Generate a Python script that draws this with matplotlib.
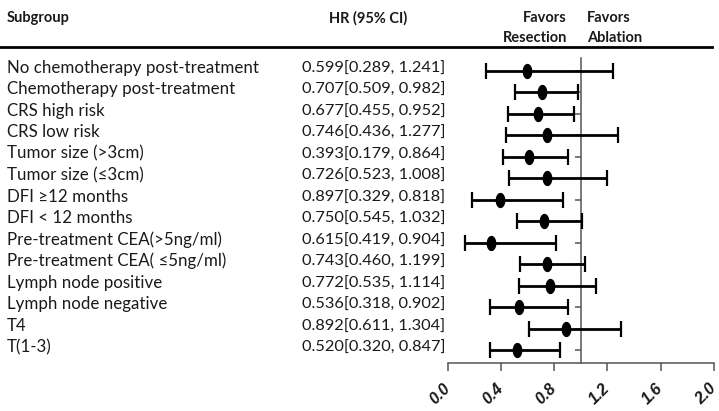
import numpy as np
import matplotlib as mpl
from matplotlib import pyplot as plt
from matplotlib.path import Path
from matplotlib.transforms import blended_transform_factory

# subgroup labels and the printed HR column
labels = ['No chemotherapy post-treatment', 'Chemotherapy post-treatment',
          'CRS high risk', 'CRS low risk', 'Tumor size (>3cm)',
          'Tumor size (\u22643cm)', 'DFI \u226512 months', 'DFI < 12 months',
          'Pre-treatment CEA(>5ng/ml)', 'Pre-treatment CEA( \u22645ng/ml)',
          'Lymph node positive', 'Lymph node negative', 'T4', 'T(1-3)']
hr_text = ['0.599[0.289, 1.241]', '0.707[0.509, 0.982]', '0.677[0.455, 0.952]',
           '0.746[0.436, 1.277]', '0.393[0.179, 0.864]', '0.726[0.523, 1.008]',
           '0.897[0.329, 0.818]', '0.750[0.545, 1.032]', '0.615[0.419, 0.904]',
           '0.743[0.460, 1.199]', '0.772[0.535, 1.114]', '0.536[0.318, 0.902]',
           '0.892[0.611, 1.304]', '0.520[0.320, 0.847]']

# plotted estimates and intervals (as drawn in the figure)
hr = [0.599, 0.707, 0.677, 0.746, 0.615, 0.743, 0.393, 0.726, 0.329,
      0.750, 0.772, 0.536, 0.892, 0.520]
lo = [0.289, 0.509, 0.455, 0.436, 0.419, 0.460, 0.179, 0.523, 0.132,
      0.545, 0.535, 0.318, 0.611, 0.320]
hi = [1.241, 0.982, 0.952, 1.277, 0.904, 1.199, 0.864, 1.008, 0.818,
      1.032, 1.114, 0.902, 1.304, 0.847]
xticks = [0.0, 0.4, 0.8, 1.2, 1.6, 2.0]

# style
txt_font = 'Lato'
c_txt = '#1a1a1a'
c_axis = '#555555'

W, H = 719, 411
fig = plt.figure(figsize=(W / 100, H / 100), dpi=100)

# axes placed in pixel terms: x 0 -> 447.7px, 2 -> 713.7px ; y top 58px, bottom 362.5px
ax = fig.add_axes([447.7 / W, (H - 362.5) / H, 266 / W, (362.5 - 58) / H])

rows = np.arange(1, len(hr) + 1)
row0, step = 70.7, 21.5
ax.set_xlim(0, 2.0)
ax.set_ylim((362.5 - row0) / step + 1, (58 - row0) / step + 1)

# elliptical marker
t = np.linspace(0, 2 * np.pi, 40)
ell = Path(np.column_stack([0.6 * np.cos(t), np.sin(t)]))

err = [np.array(hr) - np.array(lo), np.array(hi) - np.array(hr)]
ax.errorbar(hr, rows, xerr=err, fmt='none', ecolor='black', elinewidth=2.0,
            capsize=5.5, capthick=1.6, zorder=3)
ax.plot(hr, rows, linestyle='none', marker=ell, markersize=10,
        color='black', zorder=4)

# spines: left spine as the reference line at HR = 1
ax.spines['left'].set_position(('data', 1.0))
ax.spines['left'].set_color(c_axis)
ax.spines['left'].set_linewidth(1.1)
ax.spines['bottom'].set_color(c_axis)
ax.spines['bottom'].set_linewidth(1.1)
ax.spines['top'].set_visible(False)
ax.spines['right'].set_visible(False)
ax.set_yticks(rows)
ax.set_yticklabels([])
ax.tick_params(axis='y', length=4, width=1.1, color=c_axis)
ax.set_xticks(xticks)
ax.set_xticklabels(['%.1f' % v for v in xticks], rotation=45, ha='right',
                   va='center', rotation_mode='anchor', fontsize=11.5,
                   fontweight='bold', fontstyle='italic', color=c_txt,
                   family='Liberation Sans')
ax.tick_params(axis='x', length=6, width=1.1, color=c_axis, pad=11)

# text columns, x in figure pixels, y in row units
tr = blended_transform_factory(fig.transFigure, ax.transData)
for i, r in enumerate(rows):
    ax.text(7 / W, r + 0.1, labels[i], transform=tr, ha='left',
            va='baseline', fontsize=12.2, family=txt_font, color=c_txt,
            clip_on=False)
    ax.text(302 / W, r + 0.1, hr_text[i], transform=tr, ha='left',
            va='baseline', fontsize=11.8, family=txt_font, color=c_txt,
            clip_on=False)

# header
hy1, hy2 = 1 - 18 / H, 1 - 38 / H
hdr = dict(fontsize=10.5, fontweight='bold', family=txt_font, color=c_txt,
           va='center')
fig.text(7 / W, hy1, 'Subgroup', ha='left', **hdr)
fig.text(368 / W, hy1, 'HR (95% CI)', ha='center', **hdr)
fig.text(567 / W, hy1, 'Favors', ha='right', **hdr)
fig.text(567 / W, hy2, 'Resection', ha='right', **hdr)
fig.text(587 / W, hy1, 'Favors', ha='left', **hdr)
fig.text(587 / W, hy2, 'Ablation', ha='left', **hdr)

# header rule
fig.add_artist(mpl.lines.Line2D([0, 712 / W], [1 - 47 / H, 1 - 47 / H],
                                transform=fig.transFigure, color='black',
                                linewidth=2.0))

fig.savefig('out.png', dpi=100)
